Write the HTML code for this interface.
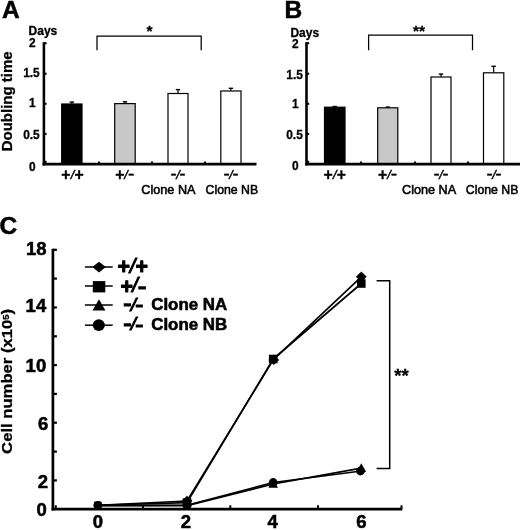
<!DOCTYPE html>
<html><head><meta charset="utf-8"><title>Figure</title>
<style>
html,body{margin:0;padding:0;background:#fff;}
body{width:520px;height:530px;overflow:hidden;}
svg{display:block;filter:blur(0.4px);}
text{font-family:"Liberation Sans",Arial,Helvetica,sans-serif;fill:#000;}
.b{font-weight:bold;stroke:#000;stroke-width:0.3;stroke-linejoin:round;}
.k{stroke-width:0.55;}
.h{stroke:#000;stroke-width:0.45;}
.n{stroke:#000;stroke-width:0.55;}
</style></head><body>
<svg width="520" height="530" viewBox="0 0 520 530">
<rect width="520" height="530" fill="#fff"/>

<text class="b k" x="2" y="18.1" font-size="24.5">A</text>
<text class="b" x="28.6" y="35.4" font-size="12">Days</text>
<text class="b" x="32.3" y="47.4" font-size="11.9" text-anchor="middle">2</text>
<text class="b" x="31.4" y="77" font-size="11.9" text-anchor="middle">1.5</text>
<text class="b" x="32.3" y="106.8" font-size="11.9" text-anchor="middle">1</text>
<text class="b" x="31.4" y="138.7" font-size="11.9" text-anchor="middle">0.5</text>
<text class="b" x="32.3" y="170.5" font-size="11.9" text-anchor="middle">0</text>
<line x1="71.85" y1="104" x2="71.85" y2="101.8" stroke="#000" stroke-width="1.2"/>
<line x1="69.64999999999999" y1="102.1" x2="74.05" y2="102.1" stroke="#000" stroke-width="1.4"/>
<rect x="61.7" y="104" width="20.299999999999997" height="60" fill="#000" stroke="#000" stroke-width="1.2"/>
<line x1="124.94999999999999" y1="103.6" x2="124.94999999999999" y2="101.5" stroke="#000" stroke-width="1.2"/>
<line x1="122.74999999999999" y1="101.8" x2="127.14999999999999" y2="101.8" stroke="#000" stroke-width="1.4"/>
<rect x="114.7" y="103.6" width="20.499999999999986" height="60.400000000000006" fill="#c8c8c8" stroke="#000" stroke-width="1.2"/>
<line x1="178.0" y1="93.5" x2="178.0" y2="89.3" stroke="#000" stroke-width="1.2"/>
<line x1="175.8" y1="89.6" x2="180.2" y2="89.6" stroke="#000" stroke-width="1.4"/>
<rect x="168" y="93.5" width="20" height="70.5" fill="#fff" stroke="#000" stroke-width="1.2"/>
<line x1="230.9" y1="91" x2="230.9" y2="88" stroke="#000" stroke-width="1.2"/>
<line x1="228.70000000000002" y1="88.3" x2="233.1" y2="88.3" stroke="#000" stroke-width="1.4"/>
<rect x="220.8" y="91" width="20.19999999999999" height="73" fill="#fff" stroke="#000" stroke-width="1.2"/>
<line x1="43.9" y1="42.2" x2="43.9" y2="165.5" stroke="#000" stroke-width="2.6"/>
<line x1="42.6" y1="164.2" x2="256.5" y2="164.2" stroke="#000" stroke-width="2.7"/>
<line x1="43.9" y1="43.2" x2="46.6" y2="43.2" stroke="#000" stroke-width="2"/>
<line x1="43.9" y1="73.7" x2="46.6" y2="73.7" stroke="#000" stroke-width="2"/>
<line x1="43.9" y1="103.8" x2="46.6" y2="103.8" stroke="#000" stroke-width="2"/>
<line x1="43.9" y1="133.9" x2="46.6" y2="133.9" stroke="#000" stroke-width="2"/>
<line x1="43.9" y1="161.8" x2="46.6" y2="161.8" stroke="#000" stroke-width="2"/>
<line x1="99" y1="164" x2="99" y2="161.5" stroke="#000" stroke-width="2"/>
<line x1="152" y1="164" x2="152" y2="161.5" stroke="#000" stroke-width="2"/>
<line x1="205" y1="164" x2="205" y2="161.5" stroke="#000" stroke-width="2"/>
<path d="M97 50.3 V36.2 H201.2 V50.3" fill="none" stroke="#000" stroke-width="1.25"/>
<text class="b" x="149.5" y="36" font-size="15.5" text-anchor="middle">*</text>
<text><tspan class="b" style="stroke-width:0.30" x="61.27" y="179.76" font-size="15.80">+</tspan><tspan class="h" style="stroke-width:0.50" font-style="italic" x="70.73" y="178.50" font-size="12.74">/</tspan><tspan class="b" style="stroke-width:0.30" x="74.57" y="179.76" font-size="15.80">+</tspan></text>
<text><tspan class="b" style="stroke-width:0.30" x="115.27" y="179.76" font-size="15.80">+</tspan><tspan class="h" style="stroke-width:0.50" font-style="italic" x="124.33" y="178.50" font-size="12.74">/</tspan><tspan class="h" style="stroke-width:0.45" x="127.93" y="180.18" font-size="19.20">-</tspan></text>
<text><tspan class="h" style="stroke-width:0.45" x="170.56" y="179.97" font-size="18.40">-</tspan><tspan class="h" style="stroke-width:0.50" font-style="italic" x="176.33" y="178.50" font-size="12.74">/</tspan><tspan class="h" style="stroke-width:0.45" x="179.38" y="179.86" font-size="18.00">-</tspan></text>
<text><tspan class="h" style="stroke-width:0.45" x="223.56" y="179.97" font-size="18.40">-</tspan><tspan class="h" style="stroke-width:0.50" font-style="italic" x="229.33" y="178.50" font-size="12.74">/</tspan><tspan class="h" style="stroke-width:0.45" x="232.38" y="179.86" font-size="18.00">-</tspan></text>
<text class="n" x="141.3" y="194.4" font-size="13.2" textLength="54.2" lengthAdjust="spacingAndGlyphs">Clone NA</text>
<text class="n" x="205.6" y="194.4" font-size="13.2" textLength="52.6" lengthAdjust="spacingAndGlyphs">Clone NB</text>
<text class="b" transform="translate(12.3,151.3) rotate(-90)" font-size="14.5" textLength="100" lengthAdjust="spacingAndGlyphs">Doubling time</text>
<text class="b k" x="284.5" y="18.1" font-size="24.5">B</text>
<text class="b" x="290.4" y="36.9" font-size="12">Days</text>
<text class="b" x="295.2" y="47.8" font-size="11.9" text-anchor="middle">2</text>
<text class="b" x="294.6" y="78.5" font-size="11.9" text-anchor="middle">1.5</text>
<text class="b" x="295.2" y="108.3" font-size="11.9" text-anchor="middle">1</text>
<text class="b" x="294.5" y="139.3" font-size="11.9" text-anchor="middle">0.5</text>
<text class="b" x="295.2" y="170.4" font-size="11.9" text-anchor="middle">0</text>
<line x1="334.75" y1="107.2" x2="334.75" y2="106.2" stroke="#000" stroke-width="1.2"/>
<line x1="332.55" y1="106.5" x2="336.95" y2="106.5" stroke="#000" stroke-width="1.4"/>
<rect x="324.5" y="107.2" width="20.5" height="56.8" fill="#000" stroke="#000" stroke-width="1.2"/>
<line x1="387.75" y1="107.8" x2="387.75" y2="106.8" stroke="#000" stroke-width="1.2"/>
<line x1="385.55" y1="107.1" x2="389.95" y2="107.1" stroke="#000" stroke-width="1.4"/>
<rect x="377.7" y="107.8" width="20.100000000000023" height="56.2" fill="#c8c8c8" stroke="#000" stroke-width="1.2"/>
<line x1="441.0" y1="77" x2="441.0" y2="73.8" stroke="#000" stroke-width="1.2"/>
<line x1="438.8" y1="74.1" x2="443.2" y2="74.1" stroke="#000" stroke-width="1.4"/>
<rect x="431" y="77" width="20" height="87" fill="#fff" stroke="#000" stroke-width="1.2"/>
<line x1="493.65" y1="72.8" x2="493.65" y2="66" stroke="#000" stroke-width="1.2"/>
<line x1="491.45" y1="66.3" x2="495.84999999999997" y2="66.3" stroke="#000" stroke-width="1.4"/>
<rect x="483.5" y="72.8" width="20.30000000000001" height="91.2" fill="#fff" stroke="#000" stroke-width="1.2"/>
<line x1="306.5" y1="42.2" x2="306.5" y2="165.5" stroke="#000" stroke-width="2.6"/>
<line x1="305.2" y1="164.2" x2="520" y2="164.2" stroke="#000" stroke-width="2.7"/>
<line x1="306.5" y1="43.2" x2="309.2" y2="43.2" stroke="#000" stroke-width="2"/>
<line x1="306.5" y1="73.7" x2="309.2" y2="73.7" stroke="#000" stroke-width="2"/>
<line x1="306.5" y1="103.8" x2="309.2" y2="103.8" stroke="#000" stroke-width="2"/>
<line x1="306.5" y1="133.9" x2="309.2" y2="133.9" stroke="#000" stroke-width="2"/>
<line x1="306.5" y1="161.8" x2="309.2" y2="161.8" stroke="#000" stroke-width="2"/>
<line x1="361" y1="164" x2="361" y2="161.5" stroke="#000" stroke-width="2"/>
<line x1="415" y1="164" x2="415" y2="161.5" stroke="#000" stroke-width="2"/>
<line x1="468" y1="164" x2="468" y2="161.5" stroke="#000" stroke-width="2"/>
<path d="M368.6 50.3 V35.2 H472.5 V50.3" fill="none" stroke="#000" stroke-width="1.25"/>
<text class="b" x="419" y="36" font-size="15.5" text-anchor="middle">**</text>
<text><tspan class="b" style="stroke-width:0.30" x="323.57" y="179.76" font-size="15.80">+</tspan><tspan class="h" style="stroke-width:0.50" font-style="italic" x="333.03" y="178.50" font-size="12.74">/</tspan><tspan class="b" style="stroke-width:0.30" x="336.87" y="179.76" font-size="15.80">+</tspan></text>
<text><tspan class="b" style="stroke-width:0.30" x="378.07" y="179.76" font-size="15.80">+</tspan><tspan class="h" style="stroke-width:0.50" font-style="italic" x="387.13" y="178.50" font-size="12.74">/</tspan><tspan class="h" style="stroke-width:0.45" x="390.73" y="180.18" font-size="19.20">-</tspan></text>
<text><tspan class="h" style="stroke-width:0.45" x="433.56" y="179.97" font-size="18.40">-</tspan><tspan class="h" style="stroke-width:0.50" font-style="italic" x="439.33" y="178.50" font-size="12.74">/</tspan><tspan class="h" style="stroke-width:0.45" x="442.38" y="179.86" font-size="18.00">-</tspan></text>
<text><tspan class="h" style="stroke-width:0.45" x="486.56" y="179.97" font-size="18.40">-</tspan><tspan class="h" style="stroke-width:0.50" font-style="italic" x="492.33" y="178.50" font-size="12.74">/</tspan><tspan class="h" style="stroke-width:0.45" x="495.38" y="179.86" font-size="18.00">-</tspan></text>
<text class="n" x="402" y="194.4" font-size="13.2" textLength="54.2" lengthAdjust="spacingAndGlyphs">Clone NA</text>
<text class="n" x="465.8" y="194.4" font-size="13.2" textLength="52.6" lengthAdjust="spacingAndGlyphs">Clone NB</text>
<text class="b k" x="-0.5" y="234.2" font-size="24.5">C</text>
<text class="b k" x="46.5" y="254.6" font-size="18.5" text-anchor="end">18</text>
<text class="b k" x="46.2" y="312.2" font-size="18.5" text-anchor="end">14</text>
<text class="b k" x="46.2" y="371.7" font-size="18.5" text-anchor="end">10</text>
<text class="b k" x="48.3" y="429.8" font-size="18.5" text-anchor="end">6</text>
<text class="b k" x="48.1" y="487.5" font-size="18.5" text-anchor="end">2</text>
<text class="b k" x="46.8" y="516.2" font-size="18.5" text-anchor="end">0</text>
<polyline points="97.8,505.6 187,505.6 273.2,484.0 361.3,468.1" fill="none" stroke="#000" stroke-width="1.65" stroke-linejoin="round"/>
<polyline points="97.8,505.3 187,505.2 273.2,482.5 361.3,471.0" fill="none" stroke="#000" stroke-width="1.65" stroke-linejoin="round"/>
<polyline points="97.8,505.3 187,501.0 273.2,359.9 361.3,276.8" fill="none" stroke="#000" stroke-width="1.65" stroke-linejoin="round"/>
<polyline points="97.8,505.3 187,502.6 273.2,359.0 361.3,283.5" fill="none" stroke="#000" stroke-width="1.65" stroke-linejoin="round"/>
<path d="M182.2 509.4 L187.0 500.8 L191.8 509.4 Z" fill="#000"/>
<path d="M268.4 487.8 L273.2 479.2 L278.0 487.8 Z" fill="#000"/>
<path d="M356.5 471.9 L361.3 463.3 L366.1 471.9 Z" fill="#000"/>
<path d="M181.6 501.0 L187.0 495.8 L192.4 501.0 L187.0 506.2 Z" fill="#000"/>
<path d="M268.4 359.9 L273.8 354.7 L279.2 359.9 L273.8 365.1 Z" fill="#000"/>
<path d="M355.9 276.8 L361.3 271.6 L366.7 276.8 L361.3 282.0 Z" fill="#000"/>
<rect x="94.1" y="501.6" width="7.4" height="7.4" fill="#000"/>
<rect x="182.7" y="498.3" width="8.6" height="8.6" fill="#000"/>
<rect x="268.9" y="354.7" width="8.6" height="8.6" fill="#000"/>
<rect x="357.0" y="279.2" width="8.6" height="8.6" fill="#000"/>
<circle cx="97.8" cy="505.3" r="4.4" fill="#000"/>
<circle cx="187.0" cy="505.2" r="4.4" fill="#000"/>
<circle cx="273.2" cy="482.5" r="4.4" fill="#000"/>
<circle cx="360.5" cy="471.0" r="4.4" fill="#000"/>
<line x1="52.9" y1="248.7" x2="52.9" y2="510.5" stroke="#000" stroke-width="2.7"/>
<line x1="51.6" y1="509.1" x2="402.3" y2="509.1" stroke="#000" stroke-width="2.9"/>
<line x1="53" y1="249.8" x2="56.9" y2="249.8" stroke="#000" stroke-width="2.2"/>
<line x1="53" y1="278.6" x2="56.9" y2="278.6" stroke="#000" stroke-width="2.2"/>
<line x1="53" y1="307.5" x2="56.9" y2="307.5" stroke="#000" stroke-width="2.2"/>
<line x1="53" y1="336.3" x2="56.9" y2="336.3" stroke="#000" stroke-width="2.2"/>
<line x1="53" y1="365.1" x2="56.9" y2="365.1" stroke="#000" stroke-width="2.2"/>
<line x1="53" y1="393.9" x2="56.9" y2="393.9" stroke="#000" stroke-width="2.2"/>
<line x1="53" y1="422.7" x2="56.9" y2="422.7" stroke="#000" stroke-width="2.2"/>
<line x1="53" y1="451.6" x2="56.9" y2="451.6" stroke="#000" stroke-width="2.2"/>
<line x1="53" y1="480.4" x2="56.9" y2="480.4" stroke="#000" stroke-width="2.2"/>
<line x1="55.8" y1="509" x2="55.8" y2="505.3" stroke="#000" stroke-width="2"/>
<line x1="143" y1="509" x2="143" y2="505.3" stroke="#000" stroke-width="2"/>
<line x1="230.3" y1="509" x2="230.3" y2="505.3" stroke="#000" stroke-width="2"/>
<line x1="318" y1="509" x2="318" y2="505.3" stroke="#000" stroke-width="2"/>
<line x1="401.5" y1="509" x2="401.5" y2="505.3" stroke="#000" stroke-width="2"/>
<text class="b k" x="97.8" y="528" font-size="18.5" text-anchor="middle">0</text>
<text class="b k" x="185.8" y="528" font-size="18.5" text-anchor="middle">2</text>
<text class="b k" x="272.6" y="528" font-size="18.5" text-anchor="middle">4</text>
<text class="b k" x="361.3" y="528" font-size="18.5" text-anchor="middle">6</text>
<text class="b" transform="translate(12.4,453.9) rotate(-90)" font-size="15" textLength="145" lengthAdjust="spacingAndGlyphs">Cell number (x10<tspan font-size="8.5" dy="-3.6">5</tspan><tspan dy="3.6">)</tspan></text>
<line x1="84.9" y1="267" x2="112.7" y2="267" stroke="#000" stroke-width="1.5"/>
<line x1="84.9" y1="286" x2="112.7" y2="286" stroke="#000" stroke-width="1.5"/>
<line x1="84.9" y1="305" x2="112.7" y2="305" stroke="#000" stroke-width="1.5"/>
<line x1="84.9" y1="325.2" x2="112.7" y2="325.2" stroke="#000" stroke-width="1.5"/>
<path d="M92.3 267 L99 261.7 L105.8 267 L99 272.4 Z" fill="#000"/>
<rect x="92.8" y="281.1" width="12.5" height="11.3" fill="#000"/>
<path d="M92.5 310.6 L99 299.2 L105.4 310.6 Z" fill="#000"/>
<ellipse cx="98.8" cy="325.1" rx="6.1" ry="5.9" fill="#000"/>
<text><tspan class="b" style="stroke-width:0.90" x="117.44" y="274.21" font-size="21.40">+</tspan><tspan class="h" style="stroke-width:1.04" font-style="italic" x="129.81" y="272.50" font-size="20.14">/</tspan><tspan class="b" style="stroke-width:0.90" x="135.46" y="274.21" font-size="21.40">+</tspan></text>
<text><tspan class="b" style="stroke-width:0.90" x="120.54" y="294.11" font-size="21.40">+</tspan><tspan class="h" style="stroke-width:1.04" font-style="italic" x="132.36" y="292.40" font-size="20.14">/</tspan><tspan class="h" style="stroke-width:1.23" x="137.70" y="294.68" font-size="26.01">-</tspan></text>
<text><tspan class="h" style="stroke-width:1.23" x="123.30" y="312.49" font-size="24.92">-</tspan><tspan class="h" style="stroke-width:1.04" font-style="italic" x="130.85" y="310.50" font-size="18.90">/</tspan><tspan class="h" style="stroke-width:1.23" x="135.24" y="312.34" font-size="24.38">-</tspan></text>
<text><tspan class="h" style="stroke-width:1.23" x="123.30" y="332.39" font-size="24.92">-</tspan><tspan class="h" style="stroke-width:1.04" font-style="italic" x="130.85" y="330.40" font-size="18.90">/</tspan><tspan class="h" style="stroke-width:1.23" x="135.24" y="332.24" font-size="24.38">-</tspan></text>
<text class="b k" x="151.2" y="310" font-size="15.6" textLength="76" lengthAdjust="spacingAndGlyphs">Clone NA</text>
<text class="b k" x="151.2" y="329.6" font-size="15.6" textLength="76" lengthAdjust="spacingAndGlyphs">Clone NB</text>
<path d="M376.6 280.8 H389.7 V468.5 H376.6" fill="none" stroke="#000" stroke-width="1.5"/>
<text class="b" x="394.2" y="381.8" font-size="18.6">**</text>
</svg></body></html>
